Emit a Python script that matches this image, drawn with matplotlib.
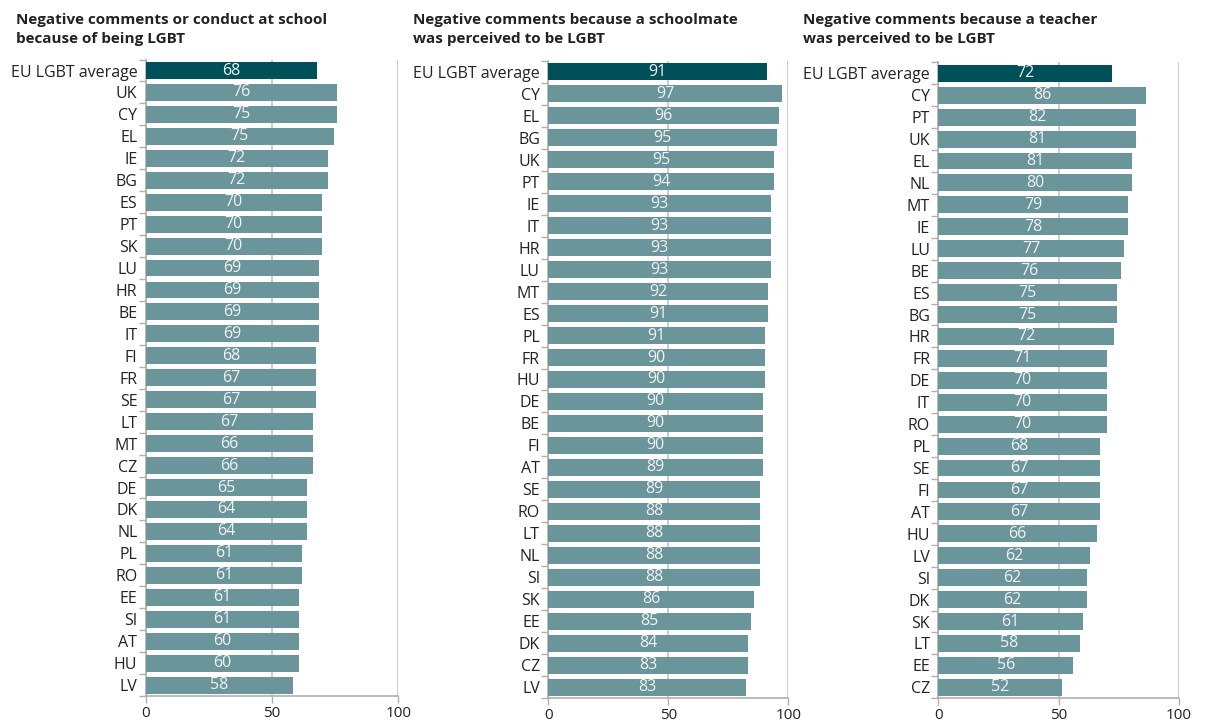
import matplotlib
matplotlib.use('Agg')
import matplotlib.pyplot as plt
from matplotlib.ticker import FixedLocator

plt.rcParams['font.family'] = ['Open Sans', 'DejaVu Sans']

DARK = '#00505a'
LIGHT = '#6a969b'
GRID = '#c4c4c4'
SPINE = '#b0b0b0'
TEXT = '#222222'

# panel 1: negative comments or conduct because of being LGBT
p1_title = 'Negative comments or conduct at school\nbecause of being LGBT'
p1_countries = ['EU LGBT average', 'UK', 'CY', 'EL', 'IE', 'BG', 'ES', 'PT', 'SK', 'LU',
                'HR', 'BE', 'IT', 'FI', 'FR', 'SE', 'LT', 'MT', 'CZ', 'DE',
                'DK', 'NL', 'PL', 'RO', 'EE', 'SI', 'AT', 'HU', 'LV']
p1_values = [67.8, 75.7, 75.7, 74.5, 72.2, 72.2, 69.8, 69.8, 69.8, 68.6,
             68.6, 68.6, 68.6, 67.4, 67.4, 67.4, 66.2, 66.2, 66.2, 63.9,
             63.9, 63.9, 61.9, 61.9, 60.7, 60.7, 60.7, 60.7, 58.3]
p1_labels = [68, 76, 75, 75, 72, 72, 70, 70, 70, 69,
             69, 69, 69, 68, 67, 67, 67, 66, 66, 65,
             64, 64, 61, 61, 61, 61, 60, 60, 58]

# panel 2: because a schoolmate was perceived to be LGBT
p2_title = 'Negative comments because a schoolmate\nwas perceived to be LGBT'
p2_countries = ['EU LGBT average', 'CY', 'EL', 'BG', 'UK', 'PT', 'IE', 'IT', 'HR', 'LU',
                'MT', 'ES', 'PL', 'FR', 'HU', 'DE', 'BE', 'FI', 'AT', 'SE',
                'RO', 'LT', 'NL', 'SI', 'SK', 'EE', 'DK', 'CZ', 'LV']
p2_values = [91.1, 97.4, 96.1, 95.3, 94.0, 94.0, 92.8, 92.8, 92.8, 92.8,
             91.5, 91.5, 90.3, 90.3, 90.3, 89.5, 89.5, 89.5, 89.5, 88.2,
             88.2, 88.2, 88.2, 88.2, 85.7, 84.5, 83.2, 83.2, 82.4]
p2_labels = [91, 97, 96, 95, 95, 94, 93, 93, 93, 93,
             92, 91, 91, 90, 90, 90, 90, 90, 89, 89,
             88, 88, 88, 88, 86, 85, 84, 83, 83]

# panel 3: because a teacher was perceived to be LGBT
p3_title = 'Negative comments because a teacher\nwas perceived to be LGBT'
p3_countries = ['EU LGBT average', 'CY', 'PT', 'UK', 'EL', 'NL', 'MT', 'IE', 'LU', 'BE',
                'ES', 'BG', 'HR', 'FR', 'DE', 'IT', 'RO', 'PL', 'SE', 'FI',
                'AT', 'HU', 'LV', 'SI', 'DK', 'SK', 'LT', 'EE', 'CZ']
p3_values = [72.2, 86.3, 82.2, 82.2, 80.5, 80.5, 78.8, 78.8, 77.2, 75.9,
             74.3, 74.3, 73.0, 70.1, 70.1, 70.1, 70.1, 67.2, 67.2, 67.2,
             67.2, 65.9, 63.0, 61.8, 61.8, 60.1, 58.9, 56.0, 51.4]
p3_labels = [72, 86, 82, 81, 81, 80, 79, 78, 77, 76,
             75, 75, 72, 71, 70, 70, 70, 68, 67, 67,
             67, 66, 62, 62, 62, 61, 58, 56, 52]

x_ticks = [0, 50, 100]


def draw_panel(fig, rect, title, title_x, countries, values, labels):
    ax = fig.add_axes(rect)
    n = len(countries)
    ypos = list(range(n))
    colors = [DARK] + [LIGHT] * (n - 1)
    ax.barh(ypos, values, height=0.77, color=colors, zorder=3)
    for y, v, lab in zip(ypos, values, labels):
        ax.text(v / 2, y, str(lab), ha='center', va='center', color='#f2f2f2',
                fontsize=11.5, zorder=4)

    ax.set_xlim(0, 100)
    ax.set_ylim(n - 0.5, -0.5)
    ax.set_xticks(x_ticks)
    ax.set_yticks(ypos)
    ax.set_yticklabels(countries)
    ax.yaxis.set_minor_locator(FixedLocator([i - 0.5 for i in range(n + 1)]))
    ax.tick_params(axis='y', which='major', length=0, pad=6, labelsize=11.5, labelcolor=TEXT)
    ax.tick_params(axis='y', which='minor', length=5, color=SPINE, width=1)
    ax.tick_params(axis='x', length=5, color=SPINE, width=1, labelsize=11,
                   labelcolor=TEXT, pad=2)
    ax.grid(axis='x', color=GRID, linewidth=1.2, zorder=0)
    for side in ['top', 'right']:
        ax.spines[side].set_visible(False)
    for side in ['left', 'bottom']:
        ax.spines[side].set_color(SPINE)
        ax.spines[side].set_linewidth(1.2)

    fig.text(title_x, 0.982, title, ha='left', va='top', fontsize=11,
             fontweight='bold', color=TEXT, linespacing=1.45)
    return ax


def main():
    fig = plt.figure(figsize=(12.05, 7.27), dpi=100)
    fig.patch.set_facecolor('white')

    draw_panel(fig, [0.1209, 0.0426, 0.2096, 0.8755], p1_title, 0.013,
               p1_countries, p1_values, p1_labels)
    draw_panel(fig, [0.4550, 0.0395, 0.1992, 0.8770], p2_title, 0.343,
               p2_countries, p2_values, p2_labels)
    draw_panel(fig, [0.7787, 0.0395, 0.1998, 0.8748], p3_title, 0.666,
               p3_countries, p3_values, p3_labels)

    fig.savefig('out.png', dpi=100)
    plt.close(fig)


if __name__ == '__main__':
    main()
